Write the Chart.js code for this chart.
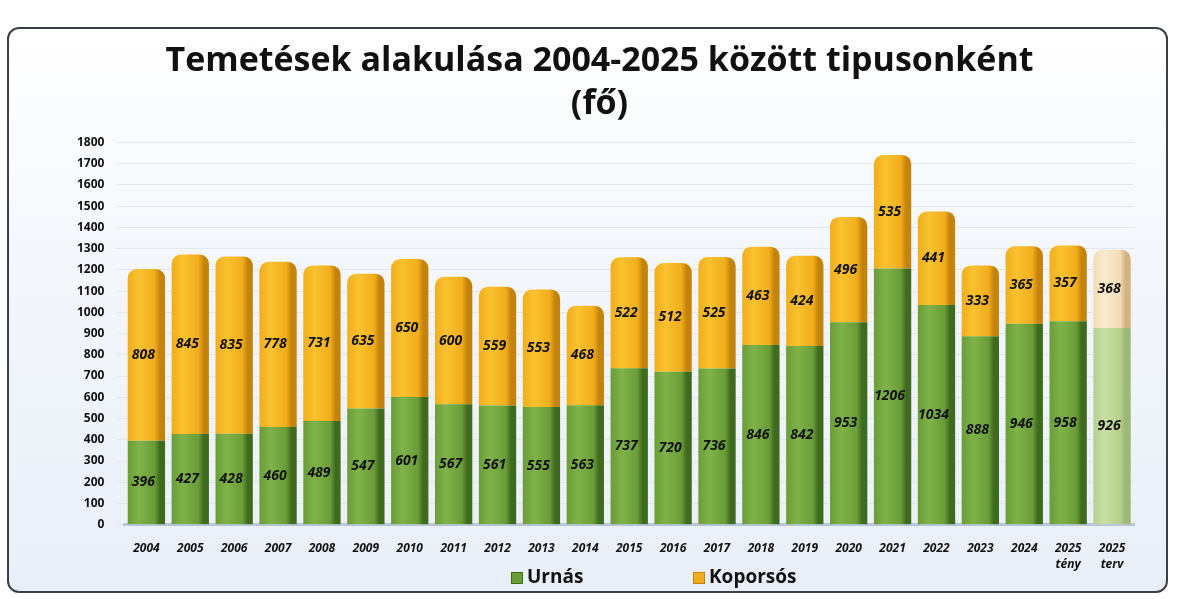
<!DOCTYPE html>
<html><head><meta charset="utf-8">
<script src="https://cdn.jsdelivr.net/npm/chart.js@4.4.1/dist/chart.umd.min.js"></script>
<style>
html,body{margin:0;padding:0;background:#ffffff;width:1177px;height:599px;overflow:hidden;}
#frame{position:absolute;left:7px;top:27px;width:1161px;height:566px;border:2px solid #3a3f48;border-radius:12px;
background:linear-gradient(180deg,#ffffff 0%,#f4f7fc 40%,#e9eff8 100%);box-sizing:border-box;}
#wrap{position:absolute;left:0;top:0;width:1177px;height:599px;}
</style></head>
<body>
<div id="frame"></div>
<div id="wrap"><canvas id="c" width="1177" height="599"></canvas></div>
<script>
const categories = ['2004','2005','2006','2007','2008','2009','2010','2011','2012','2013','2014','2015','2016','2017','2018','2019','2020','2021','2022','2023','2024',['2025','tény'],['2025','terv']];
const urnas = [396,427,428,460,489,547,601,567,561,555,563,737,720,736,846,842,953,1206,1034,888,946,958,926];
const koporsos = [808,845,835,778,731,635,650,600,559,553,468,522,512,525,463,424,496,535,441,333,365,357,368];
const titleLines = ['Temetések alakulása 2004-2025 között tipusonként','(fő)'];
const seriesNames = ['Urnás','Koporsós'];

const FONT = "'Open Sans', 'Noto Sans', sans-serif";
const lastIdx = categories.length - 1;
const CAT_PCT = 0.85;

function barGrad(c, dark, mid, light) {
  const chart = c.chart, xs = chart.scales.x;
  if (!xs || !isFinite(xs.width) || xs.width <= 0) return mid;
  const cx = xs.getPixelForValue(c.dataIndex);
  const w = xs.width / categories.length * CAT_PCT;
  const x0 = cx - w/2, x1 = cx + w/2;
  if (!isFinite(x0) || !isFinite(x1)) return mid;
  const g = chart.ctx.createLinearGradient(x0, 0, x1, 0);
  g.addColorStop(0, mid);
  g.addColorStop(0.3, light);
  g.addColorStop(0.72, mid);
  g.addColorStop(0.86, dark);
  g.addColorStop(1, dark);
  return g;
}
function greenFill(c) {
  if (c.dataIndex === lastIdx) return barGrad(c, '#9bb874', '#b6d08e', '#c8dea4');
  return barGrad(c, '#3f6b1f', '#6a9c38', '#7fb349');
}
function orangeFill(c) {
  if (c.dataIndex === lastIdx) return barGrad(c, '#d6b282', '#f3dcb4', '#f9ead0');
  return barGrad(c, '#c4840c', '#f2ad1c', '#f9c230');
}

const labelPlugin = {
  id: 'segLabels',
  afterDatasetsDraw(chart) {
    const ctx = chart.ctx;
    ctx.save();
    ctx.font = "italic bold 14px " + FONT;
    ctx.fillStyle = '#111';
    ctx.textAlign = 'center';
    ctx.textBaseline = 'middle';
    chart.data.datasets.forEach((ds, di) => {
      const meta = chart.getDatasetMeta(di);
      meta.data.forEach((el, i) => {
        const y = (el.y + el.base) / 2;
        ctx.fillText(String(ds.data[i]), el.x - 3, y);
      });
    });
    ctx.restore();
  },
  afterDraw(chart) {
    const ctx = chart.ctx;
    ctx.save();
    ctx.font = "bold 19px " + FONT;
    ctx.textBaseline = 'middle';
    ctx.textAlign = 'left';
    const items = [
      { x: 511, fill: '#6a9c38', stroke: '#3f6b1f' },
      { x: 693, fill: '#f2ad1c', stroke: '#c4840c' }
    ];
    const y = 578;
    items.forEach((it, i) => {
      ctx.fillStyle = it.fill;
      ctx.fillRect(it.x, y - 6, 12, 12);
      ctx.strokeStyle = it.stroke;
      ctx.lineWidth = 1;
      ctx.strokeRect(it.x + 0.5, y - 5.5, 11, 11);
      ctx.fillStyle = '#111';
      ctx.fillText(seriesNames[i], it.x + 16, y);
    });
    ctx.restore();
  }
};

new Chart(document.getElementById('c'), {
  type: 'bar',
  data: {
    labels: categories,
    datasets: [
      { label: seriesNames[0], data: urnas, backgroundColor: greenFill, borderWidth: 0, stack: 's',
        categoryPercentage: CAT_PCT, barPercentage: 1.0 },
      { label: seriesNames[1], data: koporsos, backgroundColor: orangeFill, borderWidth: 0, stack: 's',
        categoryPercentage: CAT_PCT, barPercentage: 1.0,
        borderRadius: {topLeft: 9, topRight: 9, bottomLeft: 0, bottomRight: 0}, borderSkipped: false }
    ]
  },
  options: {
    responsive: false,
    animation: false,
    layout: { padding: { left: 65, right: 43, top: 10, bottom: 19 } },
    plugins: {
      title: { display: true, text: titleLines, color: '#111',
        font: { family: FONT, size: 34, weight: 'bold', lineHeight: 1.27 },
        padding: { top: 30, bottom: 16 } },
      legend: { display: false },
      tooltip: { enabled: false }
    },
    scales: {
      x: { stacked: true,
        grid: { display: false },
        border: { display: true, color: '#b8c6dc', width: 3 },
        ticks: { color: '#111', font: { family: FONT, size: 12, weight: 'bold', style: 'italic', lineHeight: 1.3 },
          maxRotation: 0, autoSkip: false, padding: 8 } },
      y: { stacked: true, min: 0, max: 1800,
        grid: { color: '#e2e6ee', lineWidth: 1 },
        border: { display: false },
        ticks: { stepSize: 100, color: '#111', font: { family: FONT, size: 12, weight: 'bold' }, padding: 12,
          callback: (v) => String(v) } }
    }
  },
  plugins: [labelPlugin]
});
</script>
</body></html>
